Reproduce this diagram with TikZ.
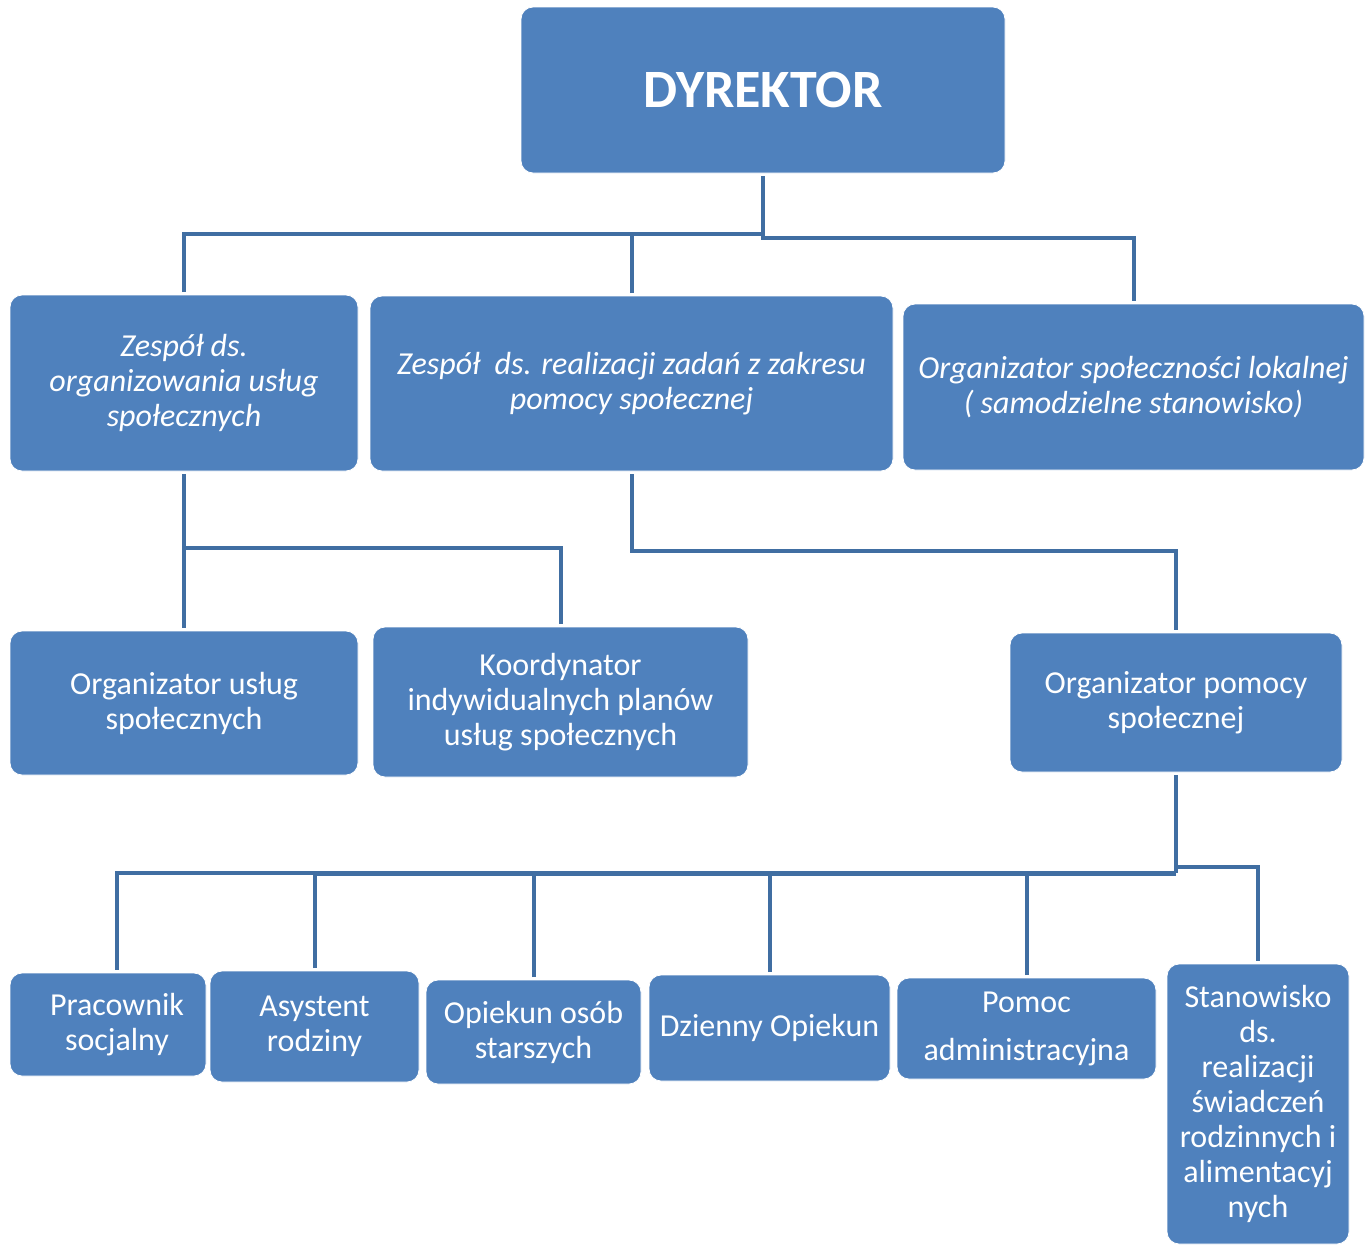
\documentclass[tikz,border=0pt]{standalone}
\usepackage{fontspec}
\setmainfont{Carlito}
\definecolor{boxblue}{RGB}{79,129,189}
\definecolor{lineblue}{RGB}{64,110,162}
\begin{document}
\begin{tikzpicture}[x=1pt,y=-1pt,
  box/.style={fill=boxblue, draw=white, line width=0.8pt, rounded corners=12pt, text=white, align=center, inner sep=0pt, outer sep=3pt,
    font=\fontsize{32}{35}\selectfont},
  ibox/.style={box, font=\fontsize{32}{35}\selectfont\itshape},
  conn/.style={draw=lineblue, line width=4pt}]
\useasboundingbox (0,0) rectangle (1369,1245);
\fill[white] (0,0) rectangle (1369,1245);

% level 0
\node[box, minimum width=484pt, minimum height=166pt, font=\fontsize{54}{60}\selectfont\bfseries] (dyr) at (763,90) {DYREKTOR};

% level 1
\node[ibox, minimum width=348pt, minimum height=176pt] (z1) at (184,383) {Zespół ds.\\organizowania usług\\społecznych};
\node[ibox, minimum width=523pt, minimum height=175pt] (z2) at (631.5,383.5) {Zespół\ \ ds. realizacji zadań z zakresu\\pomocy społecznej};
\node[ibox, minimum width=461pt, minimum height=166pt] (z3) at (1133.5,387) {Organizator społeczności lokalnej\\( samodzielne stanowisko)};

% level 2
\node[box, minimum width=348pt, minimum height=144pt] (ou) at (184,703) {Organizator usług\\społecznych};
\node[box, minimum width=375pt, minimum height=150pt] (ko) at (560.5,702) {Koordynator\\indywidualnych planów\\usług społecznych};
\node[box, minimum width=332pt, minimum height=139pt] (op) at (1176,702.5) {Organizator pomocy\\społecznej};

% level 3
\node[box, minimum width=196pt, minimum height=103pt] (pr) at (108,1024.5) {\hspace*{18pt}Pracownik\\\hspace*{18pt}socjalny};
\node[box, minimum width=209pt, minimum height=111pt] (as) at (314.5,1026.5) {Asystent\\rodziny};
\node[box, minimum width=215pt, minimum height=104pt] (oo) at (533.5,1032) {Opiekun osób\\starszych};
\node[box, minimum width=241pt, minimum height=106pt] (dz) at (769.5,1028) {Dzienny Opiekun};
\node[box, minimum width=259pt, minimum height=101pt] (po) at (1026.5,1028.5) {Pomoc\\[13pt]administracyjna};
\node[box, minimum width=182pt, minimum height=280pt] (st) at (1258,1104) {Stanowisko\\ds.\\realizacji\\świadczeń\\rodzinnych i\\alimentacyj\\nych};

% connectors level 0 -> 1
\coordinate (busA) at (764,234);
\coordinate (busAr) at (764,238);
\draw[conn] (dyr.south) -- (dyr.south |- busAr) -- (busAr);
\draw[conn] (z1.north) |- (busA);
\draw[conn] (z2.north) -- (z2.north |- busA);
\draw[conn] (busAr) -| (z3.north);

% level 1 -> 2
\coordinate (busB) at (184,548);
\draw[conn] (z1.south) -- (ou.north);
\draw[conn] (busB) -| (ko.north);
\draw[conn] (z2.south) -- ++(0,77) -| (op.north);

% level 2 -> 3
\coordinate (busC) at (1176,873);
\coordinate (busCr) at (1176,867);
\draw[conn] (op.south) -- (busC);
\draw[conn, line width=5pt] (busC) -- (315,873);
\draw[conn] (busC) -| ([xshift=9pt]pr.north);
\draw[conn] (as.north) -- (as.north |- busC);
\draw[conn] (oo.north) -- (oo.north |- busC);
\draw[conn] (dz.north) -- (dz.north |- busC);
\draw[conn] (po.north) -- (po.north |- busC);
\draw[conn] (busCr) -| (st.north);
\end{tikzpicture}
\end{document}
